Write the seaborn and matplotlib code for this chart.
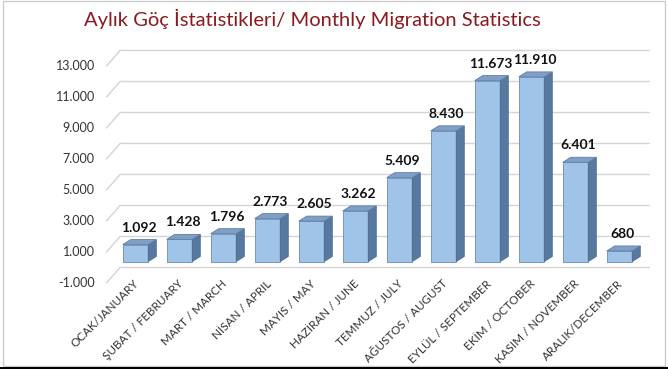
import matplotlib
matplotlib.use("Agg")
import matplotlib.pyplot as plt
import matplotlib.transforms as mtrans
import seaborn as sns
import pandas as pd
from matplotlib.patches import Polygon, Rectangle
from matplotlib.lines import Line2D

months = ["OCAK/JANUARY", "ŞUBAT / FEBRUARY", "MART / MARCH", "NİSAN / APRIL",
          "MAYIS / MAY", "HAZİRAN / JUNE", "TEMMUZ / JULY", "AĞUSTOS / AUGUST",
          "EYLÜL / SEPTEMBER", "EKİM / OCTOBER", "KASIM / NOVEMBER", "ARALIK/DECEMBER"]
values = [1092, 1428, 1796, 2773, 2605, 3262, 5409, 8430, 11673, 11910, 6401, 680]
value_labels = ["1.092", "1.428", "1.796", "2.773", "2.605", "3.262", "5.409",
                "8.430", "11.673", "11.910", "6.401", "680"]
yticks = [-1000, 1000, 3000, 5000, 7000, 9000, 11000, 13000]
ytick_labels = ["-1.000", "1.000", "3.000", "5.000", "7.000", "9.000", "11.000", "13.000"]
title = "Aylık Göç İstatistikleri/ Monthly Migration Statistics"

sns.set_theme(style="white")
plt.rcParams["font.family"] = ["Lato", "DejaVu Sans"]

W, H = 668, 369
fig = plt.figure(figsize=(W / 100, H / 100), dpi=100)
fig.patch.set_facecolor("white")
ax = fig.add_axes([104.5 / W, 1 - 282 / H, 528 / W, 217 / H])
ax.set_facecolor("none")

df = pd.DataFrame({"month": months, "value": values})
sns.barplot(data=df, x="month", y="value", color="#9dc3e6", width=0.58,
            saturation=1, ax=ax, edgecolor="#6b8db5", linewidth=0.6, zorder=3)
ax.set_ylim(-1000, 13000)
ax.set_xlim(-0.5, len(months) - 0.5)
for s in ax.spines.values():
    s.set_visible(False)
ax.set_xlabel("")
ax.set_ylabel("")
ax.set_yticks(yticks)
ax.set_yticklabels(ytick_labels, fontsize=9, color="#333333")
ax.tick_params(axis="y", length=0, pad=7)
ax.set_xticks(range(len(months)))
ax.set_xticklabels(months, rotation=45, ha="right", rotation_mode="anchor",
                   fontsize=8.4, color="#333333")
ax.tick_params(axis="x", length=0, pad=0)
shift = mtrans.ScaledTranslation(7 / 100, 4 / 100, fig.dpi_scale_trans)
for lbl in ax.get_xticklabels():
    lbl.set_transform(lbl.get_transform() + shift)

fig.canvas.draw()
tD = ax.transData
# back-wall gridlines (offset) with diagonal wall stubs
gdx, gdy = 16, 15
x_left = tD.transform((-0.5, 0))[0]
x_right = tD.transform((len(months) - 0.5, 0))[0]
for t in yticks:
    yd = tD.transform((0, t))[1]
    fig.add_artist(Line2D([x_left + gdx, x_right + gdx], [yd + gdy, yd + gdy],
                          transform=None, color="#d4d4d4", lw=1.0, zorder=1))
    fig.add_artist(Line2D([x_left + 2, x_left + gdx], [yd - 1, yd + gdy],
                          transform=None, color="#d4d4d4", lw=1.0, zorder=1))

# shift bars into mid-depth and add 3D faces
bdx, bdy = 9, 5
ddx, ddy = 8, 5
for p, lab in zip(ax.patches, value_labels):
    bb = p.get_bbox()
    (x0, y0) = tD.transform((bb.x0, bb.y0))
    (x1, y1) = tD.transform((bb.x1, bb.y1))
    x0 += bdx; x1 += bdx; y0 += bdy; y1 += bdy
    p.set_visible(False)
    front = Polygon([(x0, y0), (x1, y0), (x1, y1), (x0, y1)], closed=True,
                    transform=None, facecolor="#9fc4e8", edgecolor="#6b8db5", lw=0.6, zorder=4)
    side = Polygon([(x1, y0), (x1 + ddx, y0 + ddy), (x1 + ddx, y1 + ddy), (x1, y1)],
                   closed=True, transform=None, facecolor="#58799f", edgecolor="#4d6a8c",
                   lw=0.6, zorder=4)
    top = Polygon([(x0, y1), (x1, y1), (x1 + ddx, y1 + ddy), (x0 + ddx, y1 + ddy)],
                  closed=True, transform=None, facecolor="#7f9fc6", edgecolor="#5f7fa6",
                  lw=0.6, zorder=4)
    for a in (front, side, top):
        fig.add_artist(a)
    fig.text((x0 + x1) / 2 / W + 3 / W, (y1 + ddy + 6) / H, lab, ha="center", va="bottom",
             fontsize=10, fontweight="bold", color="#111111", zorder=5)

fig.text(312 / W, 1 - 19 / H, title, ha="center", va="center", fontsize=14.5,
         color="#8a1a1f")

fig.add_artist(Rectangle((3 / W, 3 / H), 1 - 6 / W, 1 - 4 / H, transform=fig.transFigure,
                         fill=False, edgecolor="#cccccc", lw=1))
fig.add_artist(Rectangle((0, 0), 1, 2.5 / H, transform=fig.transFigure,
                         facecolor="black", edgecolor="none", zorder=10))

fig.savefig("out.png", dpi=100)
